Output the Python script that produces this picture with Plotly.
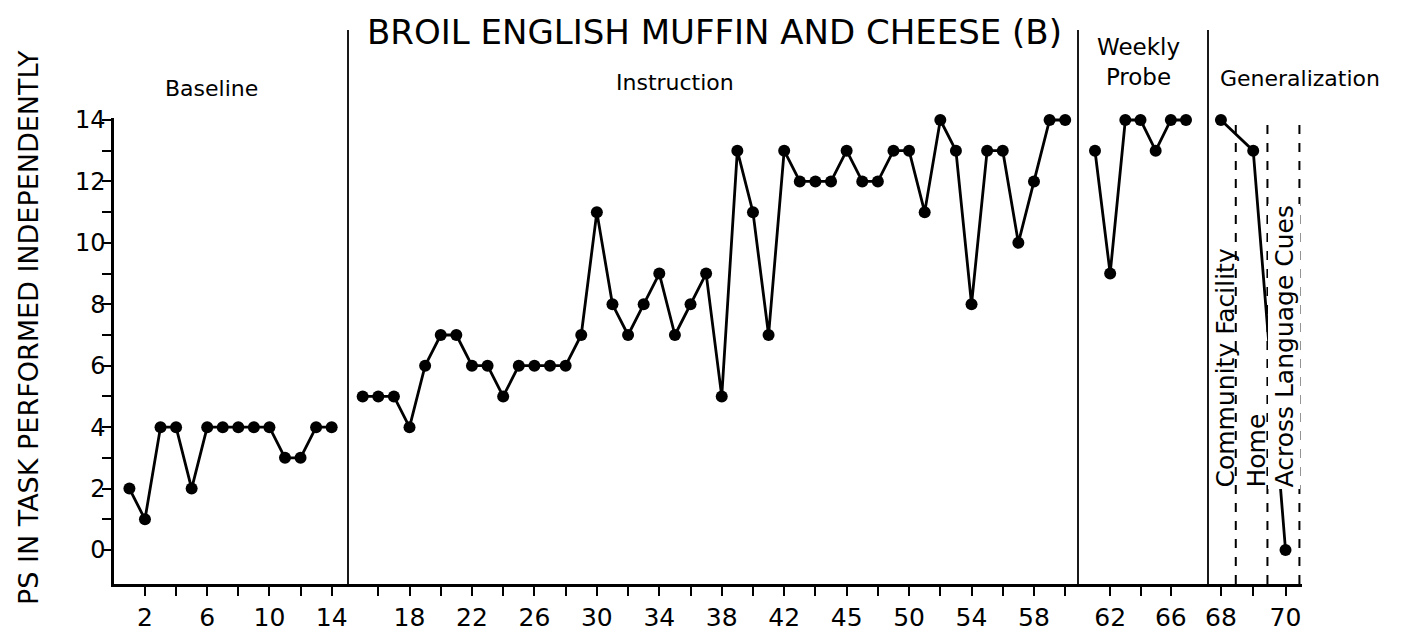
import plotly.graph_objects as go

# ---------------- data ----------------
baseline_sessions = list(range(1, 15))
baseline_values = [2, 1, 4, 4, 2, 4, 4, 4, 4, 4, 3, 3, 4, 4]

instruction_sessions = list(range(15, 61))
instruction_values = [5, 5, 5, 4, 6, 7, 7, 6, 6, 5, 6, 6, 6, 6, 7, 11, 8, 7, 8, 9,
                      7, 8, 9, 5, 13, 11, 7, 13, 12, 12, 12, 13, 12, 12, 13, 13, 11, 14,
                      13, 8, 13, 13, 10, 12, 14, 14]

probe_sessions = list(range(61, 68))
probe_values = [13, 9, 14, 14, 13, 14, 14]

general_sessions = [68, 69, 70]
general_values = [14, 13, 0]

baseline_ticks = [2, 4, 6, 8, 10, 12, 14]
baseline_ticktext = ["2", "", "6", "", "10", "", "14"]
instruction_ticks = list(range(16, 61, 2))
instruction_ticktext = ["", "18", "", "22", "", "26", "", "30", "", "34", "", "38", "",
                        "42", "", "45", "", "50", "", "54", "", "58", ""]
probe_ticks = [62, 64, 66]
probe_ticktext = ["62", "", "66"]
general_ticks = [68, 69, 70]
general_ticktext = ["68", "", "70"]

y_ticks = list(range(0, 15))
y_ticktext = [str(v) if v % 2 == 0 else "" for v in y_ticks]

phase_labels = ["Baseline", "Instruction", "Weekly<br>Probe", "Generalization"]
setting_labels = ["Community Facility", "Home", "Across Language Cues"]
setting_bounds = [68.46, 69.44, 70.43]

# ---------------- layout geometry (screen pixels, page has 8px body margin) ----------------
W, H = 1410, 635
OFF = 8
PL, PR, PT, PB = 114, 1302, 118, 584   # plot area on screen
L, R, T, B = PL - OFF, W - (PR - OFF), PT - OFF, H - (PB - OFF)
pw = PR - PL
ph = PB - PT


def px(xs):
    return (xs - PL) / pw


def py(ys):
    return (PB - ys) / ph


d1, d2, d3 = px(348), px(1078), px(1208)
FONT = "DejaVu Sans"

fig = go.Figure()
for xs, ys, xa in [(baseline_sessions, baseline_values, "x"),
                   (instruction_sessions, instruction_values, "x2"),
                   (probe_sessions, probe_values, "x3"),
                   (general_sessions, general_values, "x4")]:
    fig.add_trace(go.Scatter(
        x=xs, y=ys, xaxis=xa, yaxis="y", mode="lines+markers",
        line=dict(color="black", width=2.8),
        marker=dict(color="black", size=12),
        cliponaxis=False, showlegend=False, hoverinfo="skip"))

axis_common = dict(showline=True, linecolor="black", linewidth=2.5, ticks="outside",
                   ticklen=9, tickwidth=2, tickcolor="black", showgrid=False,
                   zeroline=False, anchor="y", tickmode="array",
                   tickfont=dict(family=FONT, size=25, color="black"))

fig.update_layout(
    width=W, height=H, margin=dict(l=L, r=R, t=T, b=B),
    paper_bgcolor="white", plot_bgcolor="white",
    font=dict(family=FONT, color="black"),
    xaxis=dict(domain=[0, d1], range=[0.01, 15.05], tickvals=baseline_ticks,
               ticktext=baseline_ticktext, **axis_common),
    xaxis2=dict(domain=[d1, d2], range=[14.06, 60.82], tickvals=instruction_ticks,
                ticktext=instruction_ticktext, **axis_common),
    xaxis3=dict(domain=[d2, d3], range=[59.88, 68.45], tickvals=probe_ticks,
                ticktext=probe_ticktext, **axis_common),
    xaxis4=dict(domain=[d3, 1], range=[67.6, 70.51], tickvals=general_ticks,
                ticktext=general_ticktext, **axis_common),
    yaxis=dict(domain=[0, 1], range=[-1.107, 14.065], anchor="x", showline=True,
               linecolor="black", linewidth=2.5, ticks="outside", ticklen=9,
               tickwidth=2, tickcolor="black", showgrid=False, zeroline=False,
               tickmode="array", tickvals=y_ticks, ticktext=y_ticktext,
               ticklabelstandoff=-8,
               tickfont=dict(family=FONT, size=24, color="black")),
)

# phase change lines
for xb in [d1, d2, d3]:
    fig.add_shape(type="line", xref="paper", yref="paper", x0=xb, x1=xb,
                  y0=0, y1=py(30), line=dict(color="black", width=1.8))

# generalization setting dashed lines
for xb in setting_bounds:
    fig.add_shape(type="line", xref="x4", yref="paper", x0=xb, x1=xb, y0=0, y1=1.0,
                  line=dict(color="black", width=2, dash="dash"))

# title and phase labels
fig.add_annotation(text="BROIL ENGLISH MUFFIN AND CHEESE (B)", xref="paper", yref="paper",
                   x=px(715), y=py(32), xanchor="center", yanchor="middle", showarrow=False,
                   font=dict(family=FONT, size=34, color="black"))
label_pos = [(211, 88), (675, 82), (1138, 62), (1300, 78)]
label_size = [22, 22, 23, 22]
for txt, (lx, ly), fs in zip(phase_labels, label_pos, label_size):
    fig.add_annotation(text=txt, xref="paper", yref="paper", x=px(lx), y=py(ly),
                       xanchor="center", yanchor="middle", showarrow=False,
                       font=dict(family=FONT, size=fs, color="black"))

# vertical setting labels
setting_x = [1225, 1255.5, 1283.5]
for i, (txt, sx) in enumerate(zip(setting_labels, setting_x)):
    fig.add_annotation(text=txt, xref="paper", yref="paper", x=px(sx), y=py(490),
                       xanchor="center", yanchor="bottom", textangle=-90,
                       showarrow=False, bgcolor="white" if i == 2 else None,
                       font=dict(family=FONT, size=25, color="black"))

# y-axis title
fig.add_annotation(text="PS IN TASK PERFORMED INDEPENDENTLY", xref="paper", yref="paper",
                   x=px(28), y=py(328), xanchor="center", yanchor="middle",
                   textangle=-90, showarrow=False,
                   font=dict(family=FONT, size=27, color="black"))

fig.write_html("out.html")
